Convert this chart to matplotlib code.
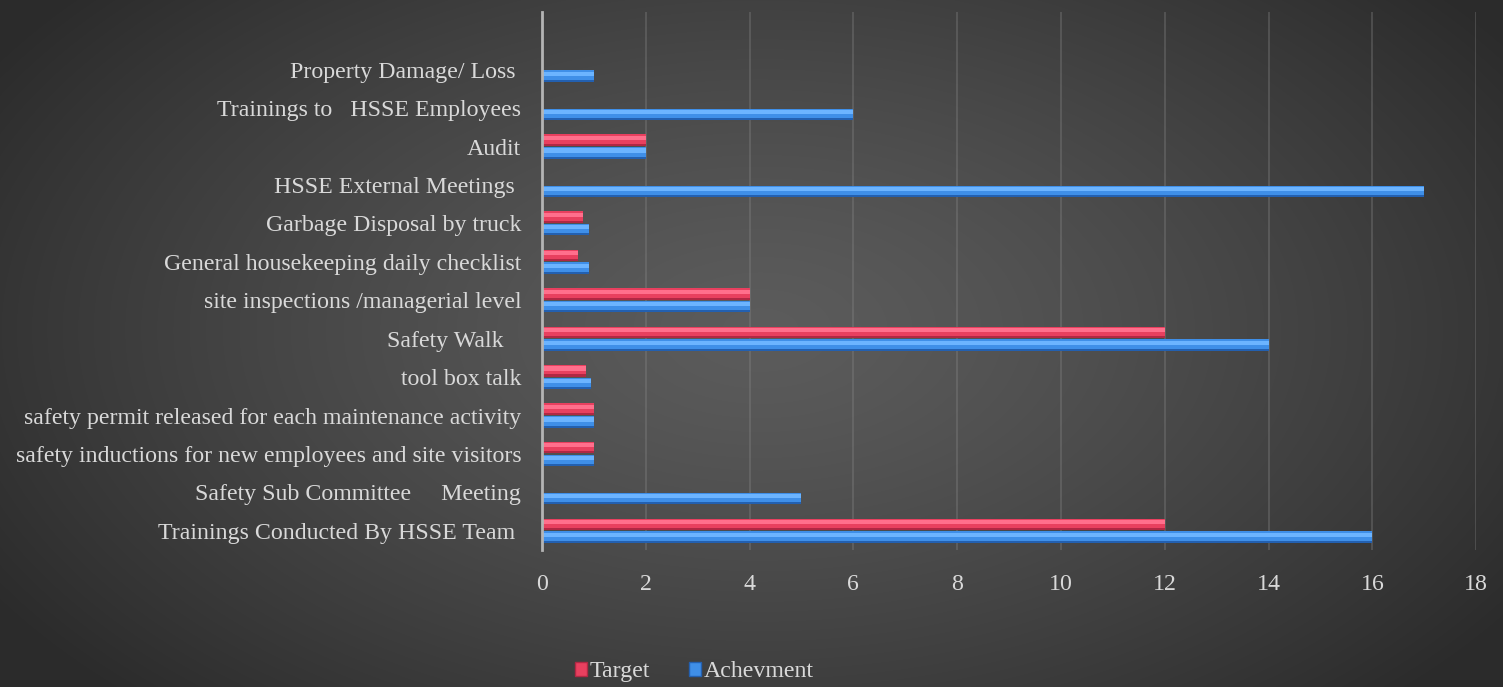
import numpy as np
import matplotlib
matplotlib.use("Agg")
import matplotlib.pyplot as plt
from matplotlib.patches import Patch

categories = [
    "Trainings Conducted By HSSE Team ",
    "Safety Sub Committee     Meeting",
    "safety inductions for new employees and site visitors",
    "safety permit released for each maintenance activity",
    "tool box talk",
    "Safety Walk   ",
    "site inspections /managerial level",
    "General housekeeping daily checklist",
    "Garbage Disposal by truck",
    "HSSE External Meetings ",
    "Audit",
    "Trainings to   HSSE Employees",
    "Property Damage/ Loss ",
]
target = [12, 0, 1, 1, 0.85, 12, 4, 0.7, 0.8, 0, 2, 0, 0]
achievement = [16, 5, 1, 1, 0.95, 14, 4, 0.9, 0.9, 17, 2, 6, 1]
xticks = [0, 2, 4, 6, 8, 10, 12, 14, 16, 18]

plt.rcParams['font.family'] = ['Liberation Serif', 'DejaVu Serif']
txt = '#d9d9d9'

fig = plt.figure(figsize=(15.03, 6.87), dpi=100)

# radial gradient background
bg = fig.add_axes([0, 0, 1, 1], zorder=-10)
yy, xx = np.mgrid[0:687, 0:1503]
r = np.sqrt(((xx - 760) / 900.0) ** 2 + ((yy - 330) / 520.0) ** 2)
r = np.clip(r, 0, 1)
v = 0.36 - 0.19 * r ** 1.3
bg.imshow(np.dstack([v, v, v]), aspect='auto', extent=[0, 1, 0, 1])
bg.axis('off')

ax = fig.add_axes([0.3606, 0.1994, 0.6215, 0.7831])
ax.patch.set_alpha(0)

y = np.arange(len(categories))
h = 0.3
off = 0.165

series = [
    (target, y + off, '#e8405f', '#ff6f8c', '#b02844'),
    (achievement, y - off, '#3f8fe8', '#6cb4ff', '#2360b0'),
]
for vals, pos, body, light, dark in series:
    ax.barh(pos, vals, height=h, color=body, linewidth=0, zorder=3)
    ax.barh(pos + h * 0.2, vals, height=h * 0.36, color=light, linewidth=0, zorder=4)
    ax.barh(pos - h * 0.41, vals, height=h * 0.18, color=dark, linewidth=0, zorder=4)

ax.set_xlim(0, 18)
ax.set_ylim(-0.5, 13.5)
ax.set_xticks(xticks)
ax.set_yticks(y)
ax.set_yticklabels(categories)
ax.tick_params(axis='y', length=0, pad=15, labelsize=17.2, labelcolor=txt)
ax.tick_params(axis='x', length=0, pad=17, labelsize=17.2, labelcolor=txt)
ax.grid(axis='x', color='#8a8a8a', alpha=0.35, linewidth=1.3, zorder=0)
ax.set_axisbelow(True)
for s in ['top', 'right', 'bottom']:
    ax.spines[s].set_visible(False)
ax.spines['left'].set_color('#b4b4b4')
ax.spines['left'].set_linewidth(2)
ax.spines['left'].set_zorder(5)

handles = [Patch(facecolor='#e8405f', edgecolor='#b02844', label='Target'),
           Patch(facecolor='#3f8fe8', edgecolor='#2360b0', label='Achevment')]
leg = fig.legend(handles=handles, loc='center', bbox_to_anchor=(0.462, 0.022), ncol=2,
                 frameon=False, fontsize=17.2, handlelength=0.5, handleheight=0.5,
                 handletextpad=0.15, columnspacing=1.6)
for t in leg.get_texts():
    t.set_color(txt)

fig.savefig('out.png', dpi=100)
